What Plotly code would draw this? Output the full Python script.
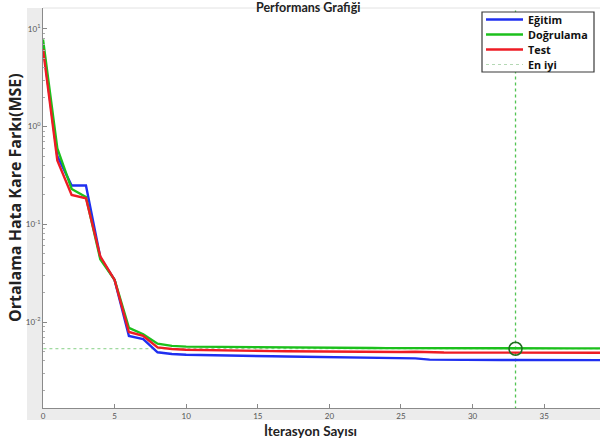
import plotly.graph_objects as go

# Training record of the network: MSE per epoch for each data split
epochs = list(range(0, 40))

egitim = [6.8, 0.50, 0.25, 0.25, 0.046, 0.027, 0.0072, 0.0067, 0.0049, 0.0047,
          0.00462, 0.00458, 0.00455, 0.00452, 0.0045, 0.00448, 0.00446, 0.00444, 0.00442, 0.0044,
          0.00438, 0.00436, 0.00434, 0.00432, 0.0043, 0.00428, 0.00425, 0.00412, 0.0041, 0.0041,
          0.00409, 0.00409, 0.00408, 0.00408, 0.00408, 0.00408, 0.00407, 0.00407, 0.00407, 0.00407]

dogrulama = [7.8, 0.60, 0.23, 0.19, 0.044, 0.027, 0.0087, 0.0075, 0.0060, 0.0057,
             0.0056, 0.00558, 0.00555, 0.00553, 0.00551, 0.0055, 0.00549, 0.00548, 0.00547, 0.00546,
             0.00545, 0.00544, 0.00543, 0.00542, 0.00541, 0.0054, 0.00539, 0.00538, 0.00537, 0.00536,
             0.00535, 0.00535, 0.00534, 0.00533, 0.00535, 0.00536, 0.00536, 0.00537, 0.00537, 0.00538]

test = [6.2, 0.45, 0.20, 0.185, 0.047, 0.027, 0.0079, 0.0072, 0.0055, 0.0053,
        0.0052, 0.00516, 0.00513, 0.0051, 0.00508, 0.00506, 0.00504, 0.00502, 0.005, 0.00499,
        0.00498, 0.00497, 0.00496, 0.00495, 0.00494, 0.00494, 0.00497, 0.00488, 0.00487, 0.00486,
        0.00486, 0.00485, 0.00485, 0.00485, 0.00484, 0.00481, 0.00482, 0.00485, 0.00485, 0.00485]

best_epoch = 33
best_value = dogrulama[best_epoch]

series_names = ["Eğitim", "Doğrulama", "Test", "En iyi"]
colors = ["#1f2ff0", "#1cc01c", "#ee1c24", "#b4d8b4"]

x_tick_vals = [0, 5, 10, 15, 20, 25, 30, 35]
y_tick_vals = [0.01, 0.1, 1, 10]
y_tick_text = ["10<sup>-2</sup>", "10<sup>-1</sup>", "10<sup>0</sup>", "10<sup>1</sup>"]
y_minor_vals = [m * 10 ** e for e in range(-3, 2) for m in range(2, 10)]

W, H = 600, 444
L, R, T, B = 43, 0, 8, 36
PW, PH = W - L - R, H - T - B


def px(xp):
    return (xp - L) / PW


def py(yp):
    return (H - B - yp) / PH


fig = go.Figure()

# best-validation guide lines
fig.add_trace(go.Scatter(x=[-5, 60], y=[best_value, best_value], mode="lines",
                         line=dict(color="#86d086", width=1, dash="dot"),
                         hoverinfo="skip", showlegend=False))
fig.add_trace(go.Scatter(x=[best_epoch, best_epoch], y=[1e-4, 1e3], mode="lines",
                         line=dict(color="#52c452", width=1.3, dash="dot"),
                         hoverinfo="skip", showlegend=False))

for name, vals, col in zip(series_names[:3], [egitim, dogrulama, test], colors[:3]):
    fig.add_trace(go.Scatter(x=epochs, y=vals, mode="lines", name=name,
                             line=dict(color=col, width=2.4), showlegend=False))

fig.add_trace(go.Scatter(x=[best_epoch], y=[best_value], mode="markers",
                         marker=dict(symbol="circle-open", size=13, color="#1e6e1e",
                                     line=dict(width=1.6, color="#1e6e1e")),
                         showlegend=False, cliponaxis=False))

shapes = [
    # grey axes frame around the plot area
    dict(type="rect", xref="paper", yref="paper", x0=px(27), x1=px(43), y0=py(420), y1=py(8),
         fillcolor="#ececec", line=dict(width=0), layer="below"),
    dict(type="rect", xref="paper", yref="paper", x0=px(27), x1=1, y0=py(420), y1=py(408),
         fillcolor="#ececec", line=dict(width=0), layer="below"),
    dict(type="line", xref="paper", yref="paper", x0=0, x1=1, y0=1, y1=1,
         line=dict(color="#e2e2e2", width=1)),
    # legend box
    dict(type="rect", xref="paper", yref="paper", x0=px(482), x1=px(594), y0=py(72), y1=py(12),
         fillcolor="white", line=dict(color="#3a3a3a", width=1.2), layer="above"),
]

annotations = []
row_y = [19.5, 34.5, 49.5, 64.5]
for i, (name, col) in enumerate(zip(series_names, colors)):
    dash = "dot" if i == 3 else "solid"
    lw = 1.2 if i == 3 else 2.4
    shapes.append(dict(type="line", xref="paper", yref="paper", x0=px(486), x1=px(523),
                       y0=py(row_y[i]), y1=py(row_y[i]), line=dict(color=col, width=lw, dash=dash),
                       layer="above"))
    annotations.append(dict(x=px(526), y=py(row_y[i]), xref="paper", yref="paper",
                            text=f"<b>{name}</b>", showarrow=False, xanchor="left", yanchor="middle",
                            font=dict(family="Open Sans", size=10.8, color="#111")))

annotations += [
    dict(x=px(308), y=py(7.5), xref="paper", yref="paper", text="<b>Performans Grafiği</b>",
         showarrow=False, xanchor="center", yanchor="middle",
         font=dict(family="Lato", size=12.5, color="#222")),
    dict(x=px(310), y=py(431), xref="paper", yref="paper", text="<b>İterasyon Sayısı</b>",
         showarrow=False, xanchor="center", yanchor="middle",
         font=dict(family="Lato", size=13.5, color="#222")),
    dict(x=px(15), y=py(198), xref="paper", yref="paper", text="<b>Ortalama Hata Kare Farkı(MSE)</b>",
         showarrow=False, xanchor="center", yanchor="middle", textangle=-90,
         font=dict(family="Open Sans", size=16, color="#222")),
]

fig.update_layout(
    width=W, height=H,
    margin=dict(l=L, r=R, t=T, b=B, pad=0),
    paper_bgcolor="white", plot_bgcolor="white",
    shapes=shapes, annotations=annotations,
    showlegend=False,
    font=dict(family="Lato", color="#555"),
)

fig.update_xaxes(range=[0, 38.9], tickvals=x_tick_vals, ticks="inside", ticklen=4,
                 tickcolor="#888", showline=True, linecolor="#8a8a8a", linewidth=1,
                 showgrid=False, zeroline=False, tickfont=dict(size=8, color="#555"))
fig.update_yaxes(type="log", range=[-2.88, 1.214], tickvals=y_tick_vals, ticktext=y_tick_text,
                 ticks="inside", ticklen=4, tickcolor="#888", showline=True,
                 linecolor="#8a8a8a", linewidth=1, showgrid=False, zeroline=False,
                 tickfont=dict(size=8, color="#555"),
                 minor=dict(tickvals=y_minor_vals, ticks="inside", ticklen=2, tickcolor="#aaa",
                            showgrid=False))

fig.write_html("out.html")
